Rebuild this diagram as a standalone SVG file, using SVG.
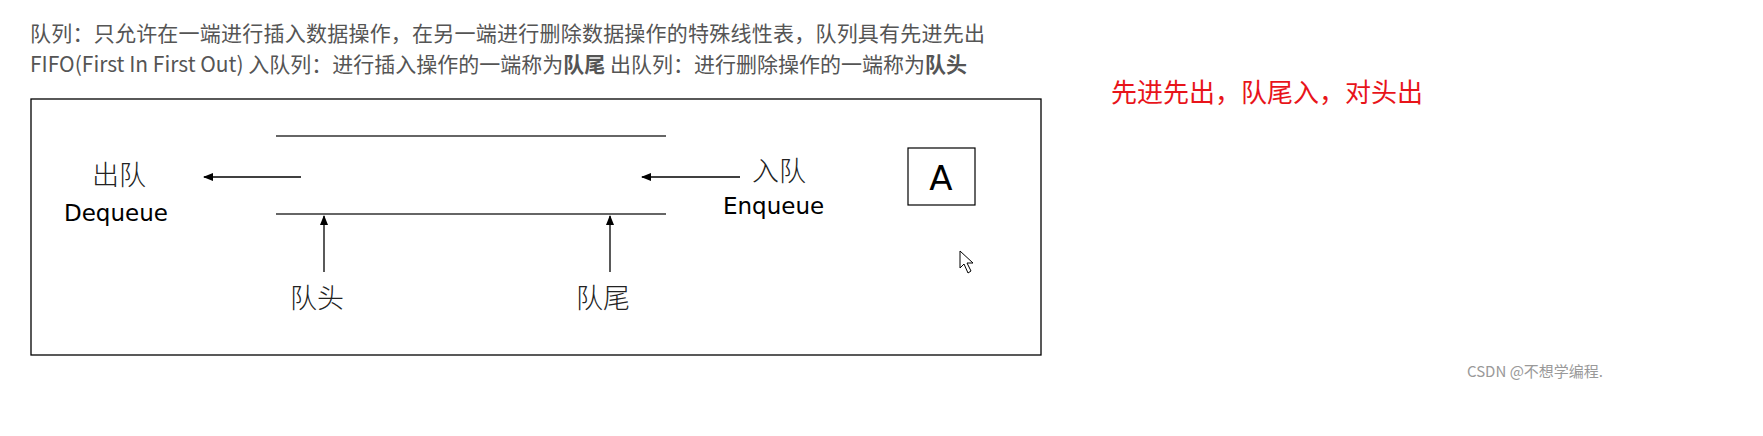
<svg xmlns="http://www.w3.org/2000/svg" width="1763" height="436" viewBox="0 0 1763 436">
<style>
.hdr{font-family:"Noto Sans CJK SC","Open Sans",sans-serif;font-size:21px;fill:#555}
.cn{font-family:"Noto Sans CJK SC",serif;font-size:27px;fill:#222;font-weight:300}
.en{font-family:"DejaVu Sans",sans-serif;font-size:23px;fill:#000}
.ln{stroke:#333;stroke-width:1.5}
.ar{stroke:#000;stroke-width:1.3;marker-end:url(#ah)}
</style>
<defs><marker id="ah" markerWidth="10" markerHeight="8" refX="9" refY="4" orient="auto" markerUnits="userSpaceOnUse"><path d="M0,0 L10,4 L0,8 Z" fill="#000"/></marker></defs>
<rect width="1763" height="436" fill="#fff"/>
<text class="hdr" x="30" y="41" textLength="955">队列：只允许在一端进行插入数据操作，在另一端进行删除数据操作的特殊线性表，队列具有先进先出</text>
<text class="hdr" x="30" y="72">FIFO(First In First Out) 入队列：进行插入操作的一端称为<tspan font-weight="bold">队尾</tspan> 出队列：进行删除操作的一端称为<tspan font-weight="bold">队头</tspan></text>
<text x="1111" y="102" font-family="Noto Sans CJK SC,sans-serif" font-size="26" fill="#e8141a">先进先出，队尾入，对头出</text>
<rect x="31" y="99" width="1010" height="256" fill="#fff" stroke="#000" stroke-width="1.3"/>
<g id="queue">
<line class="ln" x1="276" y1="136" x2="666" y2="136"/>
<line class="ln" x1="276" y1="214" x2="666" y2="214" stroke-width="2.5"/>
</g>
<g id="connectors">
<line class="ar" x1="301" y1="177" x2="204" y2="177"/>
<line class="ar" x1="740" y1="177" x2="642" y2="177"/>
<line class="ar" x1="324" y1="272" x2="324" y2="216"/>
<line class="ar" x1="610" y1="272" x2="610" y2="216"/>
</g>
<g id="dequeue"><text class="cn" x="92" y="185">出队</text><text class="en" x="64" y="221">Dequeue</text></g>
<g id="enqueue"><text class="cn" x="752" y="181">入队</text><text class="en" x="723" y="214">Enqueue</text></g>
<g id="head"><text class="cn" x="290" y="308">队头</text></g>
<g id="tail"><text class="cn" x="576" y="308">队尾</text></g>
<g id="boxA"><rect x="908" y="148" width="67" height="57" fill="#fff" stroke="#000" stroke-width="1.2"/><text x="941" y="190" text-anchor="middle" font-family="DejaVu Sans,sans-serif" font-size="34">A</text></g>
<path d="M960,251 L960,268 L964,264 L968,273 L971,271 L967,263 L973,263 Z" fill="#fff" stroke="#000" stroke-width="1"/>
<text x="1535" y="377" text-anchor="middle" font-family="Noto Sans CJK SC,sans-serif" font-size="15" fill="#999">CSDN @不想学编程.</text>
</svg>
